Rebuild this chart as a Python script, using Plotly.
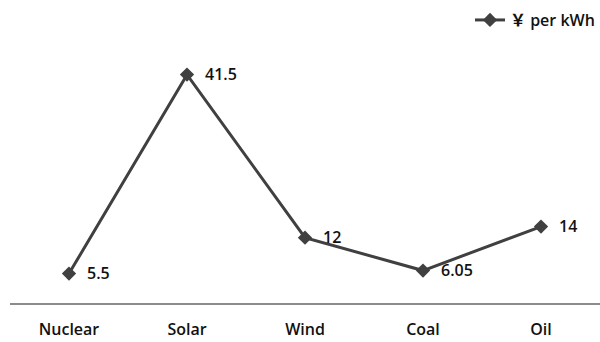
import plotly.graph_objects as go

categories = ["Nuclear", "Solar", "Wind", "Coal", "Oil"]
cost_per_kwh = [5.5, 41.5, 12, 6.05, 14]
value_labels = ["5.5", "41.5", "12", "6.05", "14"]
series_name = "￥ per kWh"

line_color = "#404040"
text_color = "#111111"
font_family = "'Open Sans', 'Noto Sans CJK SC', sans-serif"

fig = go.Figure()
fig.add_trace(go.Scatter(
    x=categories,
    y=cost_per_kwh,
    mode="lines+markers",
    name=series_name,
    line=dict(color=line_color, width=3),
    marker=dict(symbol="diamond", size=11, color=line_color),
))

for cat, val, lab in zip(categories, cost_per_kwh, value_labels):
    fig.add_annotation(
        x=cat, y=val, text=lab, showarrow=False,
        xanchor="left", yanchor="middle", xshift=16, yshift=1,
        font=dict(size=16, color=text_color, family=font_family, weight=600),
    )

fig.update_layout(
    width=600, height=342,
    margin=dict(l=10, r=0, t=0, b=38),
    paper_bgcolor="white", plot_bgcolor="white",
    font=dict(family=font_family, size=16, color=text_color, weight=600),
    showlegend=True,
    legend=dict(
        x=1.0, xanchor="right", y=0.99, yanchor="top",
        orientation="h", font=dict(size=16, color=text_color, weight=600),
        bgcolor="rgba(0,0,0,0)", itemwidth=30,
    ),
    xaxis=dict(
        type="category", range=[-0.5, 4.5],
        showgrid=False, zeroline=False,
        showline=False, ticks="", ticklabelstandoff=14,
        tickfont=dict(size=16, color=text_color, weight=600),
    ),
    yaxis=dict(
        range=[0, 55], showgrid=False, zeroline=True,
        zerolinecolor="#8c8c8c", zerolinewidth=1.5,
        showticklabels=False, ticks="",
    ),
)

fig.write_html("out.html")
